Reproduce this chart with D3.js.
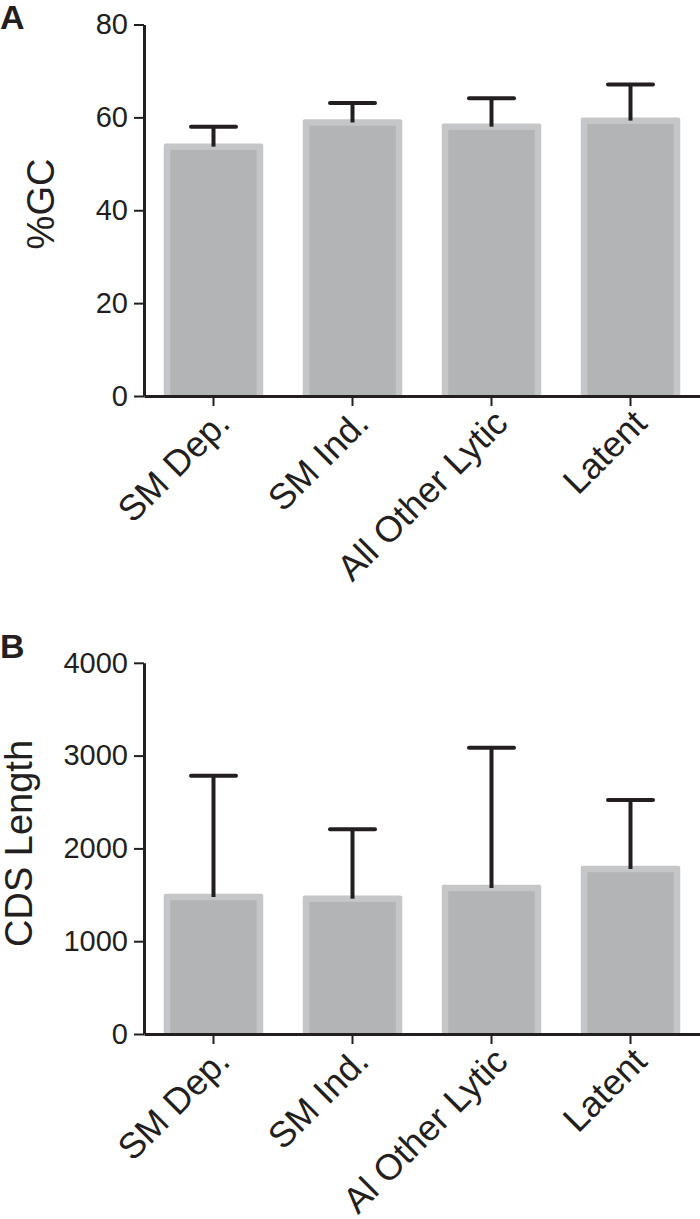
<!DOCTYPE html>
<html>
<head>
<meta charset="utf-8">
<script src="https://cdn.jsdelivr.net/npm/d3@7"></script>
<style>
  body { margin: 0; background: #fff; }
  text { font-family: "Liberation Sans", Arial, Helvetica, sans-serif; fill: #231f20; }
</style>
</head>
<body>
<div id="wrapper"></div>
<script>
// data
const categoriesA = ["SM Dep.", "SM Ind.", "All Other Lytic", "Latent"]
const categoriesB = ["SM Dep.", "SM Ind.", "Al Other Lytic", "Latent"]
const gcMean = [53.7, 58.9, 58.0, 59.3]
const gcSD = [4.3, 4.2, 6.1, 7.8]
const cdsMean = [1476, 1458, 1573, 1778]
const cdsSD = [1307, 748, 1512, 744]
const gcTicks = [0, 20, 40, 60, 80]
const cdsTicks = [0, 1000, 2000, 3000, 4000]

const ink = "#231f20"
const borderGrey = "#c5c6c7"
const fillGrey = "#b3b4b6"

const svg = d3.select("#wrapper")
  .append("svg")
  .attr("width", 700)
  .attr("height", 1219)

function drawPanel(opts) {
  const g = svg.append("g")
  const data = opts.categories.map((c, i) => ({ cat: c, mean: opts.mean[i], sd: opts.sd[i] }))

  const xScale = d3.scaleBand()
    .domain(opts.categories)
    .range([144, 700])
    .paddingInner(0.331)
    .paddingOuter(0.1655)

  const yScale = d3.scaleLinear()
    .domain([0, opts.ticks[opts.ticks.length - 1]])
    .range([opts.y0, opts.yTop])

  const bw = xScale.bandwidth()
  const b = 3.25 // half border width

  // outer lighter border
  g.selectAll(".outer").data(data).join("rect")
    .attr("x", d => xScale(d.cat) - b)
    .attr("y", d => yScale(d.mean) - b)
    .attr("width", bw + 2 * b)
    .attr("height", d => yScale(0) - yScale(d.mean) + b)
    .attr("rx", 2)
    .attr("fill", borderGrey)

  // inner darker fill
  g.selectAll(".inner").data(data).join("rect")
    .attr("x", d => xScale(d.cat) + b)
    .attr("y", d => yScale(d.mean) + b)
    .attr("width", bw - 2 * b)
    .attr("height", d => yScale(0) - yScale(d.mean) - b)
    .attr("fill", fillGrey)

  // error bars (upper SD only)
  const cx = d => xScale(d.cat) + bw / 2
  g.selectAll(".stem").data(data).join("line")
    .attr("x1", cx).attr("x2", cx)
    .attr("y1", d => yScale(d.mean))
    .attr("y2", d => yScale(d.mean + d.sd))
    .attr("stroke", ink).attr("stroke-width", 4)
  g.selectAll(".cap").data(data).join("line")
    .attr("x1", d => cx(d) - 22.5).attr("x2", d => cx(d) + 22.5)
    .attr("y1", d => yScale(d.mean + d.sd))
    .attr("y2", d => yScale(d.mean + d.sd))
    .attr("stroke", ink).attr("stroke-width", 4)
    .attr("stroke-linecap", "round")

  // axes
  const yAxis = g.append("g")
    .attr("transform", "translate(144,0)")
    .call(d3.axisLeft(yScale).tickValues(opts.ticks).tickFormat(d3.format("d"))
      .tickSize(10).tickSizeOuter(0).tickPadding(6))
  yAxis.select(".domain").attr("stroke", ink).attr("stroke-width", 3)
  yAxis.selectAll(".tick line").attr("stroke", ink).attr("stroke-width", 2)
  yAxis.selectAll(".tick text").style("font-size", "29px").attr("fill", ink)

  const xAxis = g.append("g")
    .attr("transform", `translate(0,${opts.y0})`)
    .call(d3.axisBottom(xScale).tickSize(10).tickSizeOuter(0))
  xAxis.select(".domain").attr("stroke", ink).attr("stroke-width", 3)
  xAxis.selectAll(".tick line").attr("stroke", ink).attr("stroke-width", 2)
  xAxis.selectAll(".tick text")
    .style("font-size", "36px")
    .attr("fill", ink)
    .attr("x", 0).attr("y", 0)
    .attr("dy", "0.72em")
    .attr("text-anchor", "end")
    .attr("transform", "translate(0,11) rotate(-45)")

  // axis title
  g.append("text")
    .attr("transform", `translate(${opts.titleX},${opts.titleY}) rotate(-90)`)
    .attr("text-anchor", "middle")
    .style("font-size", "38px")
    .text(opts.title)

  // panel letter
  g.append("text")
    .attr("x", opts.letterX).attr("y", opts.letterY)
    .style("font-size", "34px")
    .style("font-weight", "bold")
    .text(opts.letter)
}

drawPanel({
  categories: categoriesA, mean: gcMean, sd: gcSD, ticks: gcTicks,
  y0: 396, yTop: 24.5, title: "%GC", titleX: 54, titleY: 204,
  letter: "A", letterX: 0, letterY: 29
})

drawPanel({
  categories: categoriesB, mean: cdsMean, sd: cdsSD, ticks: cdsTicks,
  y0: 1034, yTop: 662.8, title: "CDS Length", titleX: 32, titleY: 843.5,
  letter: "B", letterX: 0, letterY: 658
})
</script>
</body>
</html>
